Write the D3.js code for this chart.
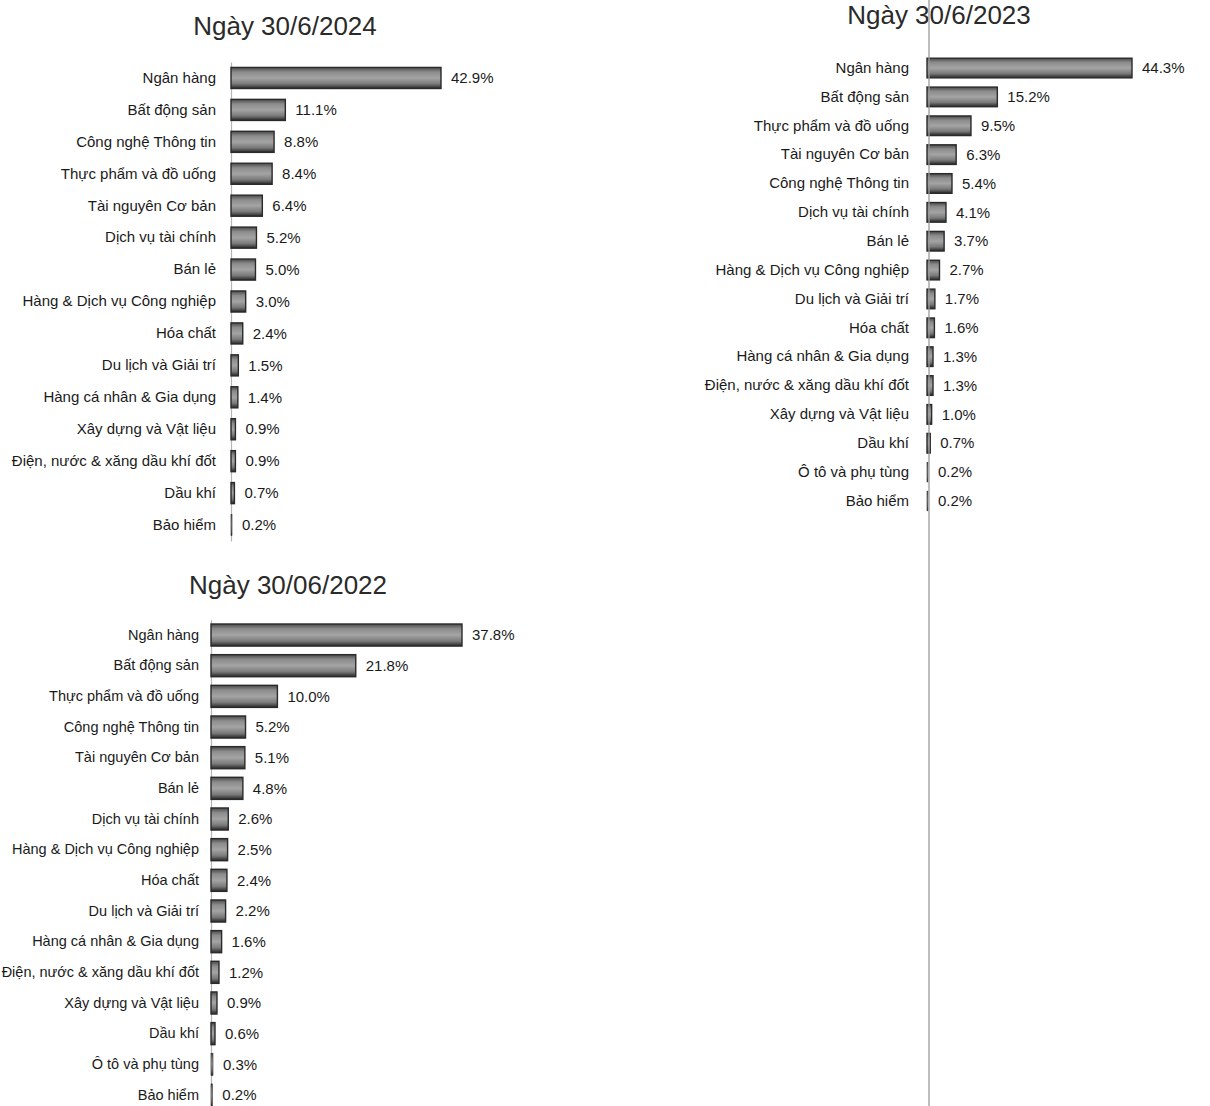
<!DOCTYPE html>
<html>
<head>
<meta charset="utf-8">
<script src="https://cdn.jsdelivr.net/npm/d3@7"></script>
<style>
  body { margin: 0; background: #fff; }
  svg { display: block; font-family: "Liberation Sans", Arial, sans-serif; }
</style>
</head>
<body>
<div id="chart"></div>
<script>
// Tỷ trọng theo ngành (%)
const titles = ['Ngày 30/6/2024', 'Ngày 30/6/2023', 'Ngày 30/06/2022'];

const cats2024 = ['Ngân hàng', 'Bất động sản', 'Công nghệ Thông tin', 'Thực phẩm và đồ uống',
  'Tài nguyên Cơ bản', 'Dịch vụ tài chính', 'Bán lẻ', 'Hàng & Dịch vụ Công nghiệp', 'Hóa chất',
  'Du lịch và Giải trí', 'Hàng cá nhân & Gia dụng', 'Xây dựng và Vật liệu',
  'Điện, nước & xăng dầu khí đốt', 'Dầu khí', 'Bảo hiểm'];
const vals2024 = [42.9, 11.1, 8.8, 8.4, 6.4, 5.2, 5.0, 3.0, 2.4, 1.5, 1.4, 0.9, 0.9, 0.7, 0.2];

const cats2023 = ['Ngân hàng', 'Bất động sản', 'Thực phẩm và đồ uống', 'Tài nguyên Cơ bản',
  'Công nghệ Thông tin', 'Dịch vụ tài chính', 'Bán lẻ', 'Hàng & Dịch vụ Công nghiệp',
  'Du lịch và Giải trí', 'Hóa chất', 'Hàng cá nhân & Gia dụng', 'Điện, nước & xăng dầu khí đốt',
  'Xây dựng và Vật liệu', 'Dầu khí', 'Ô tô và phụ tùng', 'Bảo hiểm'];
const vals2023 = [44.3, 15.2, 9.5, 6.3, 5.4, 4.1, 3.7, 2.7, 1.7, 1.6, 1.3, 1.3, 1.0, 0.7, 0.2, 0.2];

const cats2022 = ['Ngân hàng', 'Bất động sản', 'Thực phẩm và đồ uống', 'Công nghệ Thông tin',
  'Tài nguyên Cơ bản', 'Bán lẻ', 'Dịch vụ tài chính', 'Hàng & Dịch vụ Công nghiệp', 'Hóa chất',
  'Du lịch và Giải trí', 'Hàng cá nhân & Gia dụng', 'Điện, nước & xăng dầu khí đốt',
  'Xây dựng và Vật liệu', 'Dầu khí', 'Ô tô và phụ tùng', 'Bảo hiểm'];
const vals2022 = [37.8, 21.8, 10.0, 5.2, 5.1, 4.8, 2.6, 2.5, 2.4, 2.2, 1.6, 1.2, 0.9, 0.6, 0.3, 0.2];

const W = 1210, H = 1106;

const svg = d3.select('#chart').append('svg')
  .attr('width', W)
  .attr('height', H);

svg.append('rect').attr('width', W).attr('height', H).attr('fill', '#fff');

// bar fill: grey with lighter middle, dark lower edge
const grad = svg.append('defs').append('linearGradient')
  .attr('id', 'barGrad')
  .attr('x1', 0).attr('y1', 0).attr('x2', 0).attr('y2', 1);
[['0%', '#4a4a4a'], ['22%', '#8c8c8c'], ['50%', '#a4a4a4'], ['78%', '#7a7a7a'], ['100%', '#262626']]
  .forEach(s => grad.append('stop').attr('offset', s[0]).attr('stop-color', s[1]));

function drawPanel(cats, vals, title, o) {
  const g = svg.append('g');

  const x = d3.scaleLinear()
    .domain([0, d3.max(vals)])
    .range([o.left, o.left + o.width]);

  const y = d3.scaleBand()
    .domain(cats)
    .range([o.top, o.bottom])
    .paddingInner(o.pad)
    .paddingOuter(o.pad / 2);

  // category labels + axis line
  const ax = g.append('g')
    .attr('transform', 'translate(' + o.left + ',0)')
    .call(d3.axisLeft(y).tickSize(0).tickPadding(o.gap));
  ax.selectAll('text')
    .style('font-size', o.font + 'px')
    .attr('fill', '#1a1a1a');
  ax.select('.domain')
    .attr('stroke', o.showDomain ? '#b5b5b5' : 'none')
    .attr('stroke-width', 1.2);

  // bars
  g.selectAll('rect.bar')
    .data(vals)
    .enter()
    .append('rect')
    .attr('class', 'bar')
    .attr('x', x(0))
    .attr('y', (d, i) => y(cats[i]))
    .attr('width', d => x(d) - x(0))
    .attr('height', y.bandwidth())
    .attr('fill', 'url(#barGrad)')
    .attr('stroke', '#2a2a2a')
    .attr('stroke-width', d => d < 0.5 ? 0.6 : 1.4);

  // value labels
  g.selectAll('text.val')
    .data(vals)
    .enter()
    .append('text')
    .attr('class', 'val')
    .attr('x', d => x(d) + 10)
    .attr('y', (d, i) => y(cats[i]) + y.bandwidth() / 2)
    .attr('dy', '0.35em')
    .style('font-size', '15px')
    .attr('fill', '#1a1a1a')
    .text(d => d.toFixed(1) + '%');

  g.append('text')
    .attr('x', o.titleX)
    .attr('y', o.titleY)
    .attr('text-anchor', 'middle')
    .style('font-size', '26px')
    .attr('fill', '#2a2a2a')
    .text(title);
}

drawPanel(cats2024, vals2024, titles[0], {
  left: 231, width: 210, top: 62, bottom: 541, pad: 0.34, gap: 15, font: 15,
  titleX: 285, titleY: 35, showDomain: true
});

drawPanel(cats2023, vals2023, titles[1], {
  left: 927, width: 205, top: 53.6, bottom: 515.4, pad: 0.32, gap: 18, font: 15,
  titleX: 939, titleY: 24, showDomain: false
});

drawPanel(cats2022, vals2022, titles[2], {
  left: 211, width: 251, top: 619.7, bottom: 1110.3, pad: 0.28, gap: 12, font: 14.5,
  titleX: 288, titleY: 594, showDomain: true
});

// long grey rule running the full page height beside the 2023 panel
svg.append('line')
  .attr('x1', 929).attr('x2', 929)
  .attr('y1', 0).attr('y2', H)
  .attr('stroke', '#9a9a9a')
  .attr('stroke-width', 1.3);
</script>
</body>
</html>
